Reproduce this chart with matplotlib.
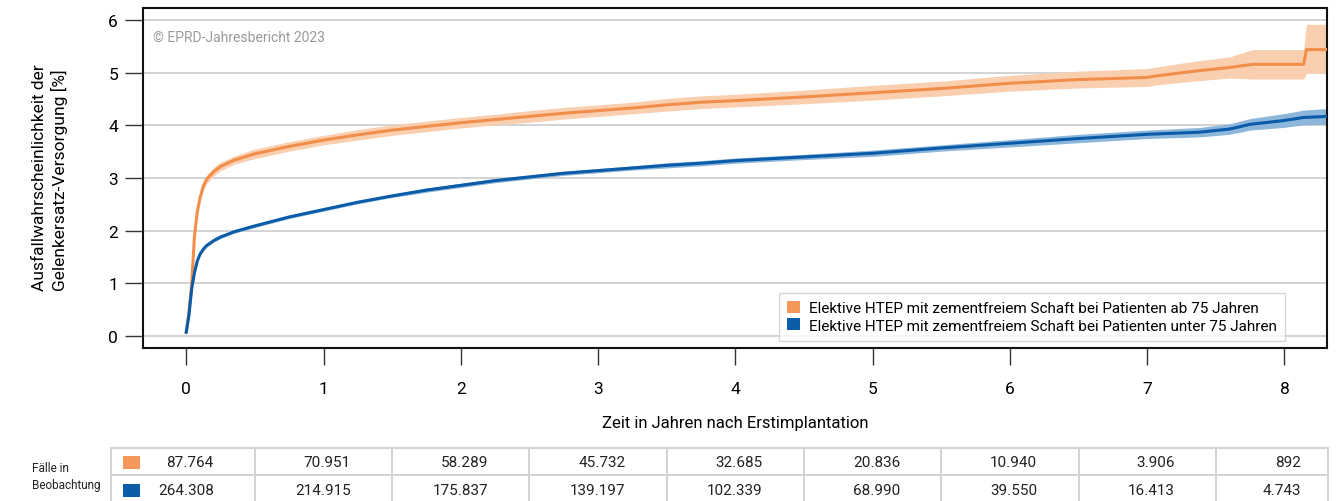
import matplotlib
matplotlib.use("Agg")
import matplotlib.pyplot as plt
from matplotlib.patches import Patch, Rectangle

plt.rcParams['font.family'] = ['Roboto', 'DejaVu Sans']

# ---------------- data ----------------
t_old = [0, 0.02, 0.04, 0.06, 0.08, 0.10, 0.125, 0.15, 0.20, 0.25, 0.35, 0.50, 0.75, 1.00, 1.25, 1.50,
         1.75, 2.00, 2.25, 2.50, 2.75, 3.00, 3.25, 3.50, 3.75, 4.00, 4.50, 5.00, 5.50, 6.00, 6.50, 7.00,
         7.07, 7.22, 7.38, 7.60, 7.77, 8.14, 8.16, 8.31]
v_old = [0.07, 0.45, 1.00, 1.90, 2.35, 2.62, 2.85, 2.98, 3.12, 3.22, 3.34, 3.46, 3.60, 3.72, 3.82, 3.91,
         3.98, 4.05, 4.11, 4.17, 4.23, 4.28, 4.33, 4.39, 4.44, 4.47, 4.54, 4.62, 4.70, 4.80, 4.87, 4.91,
         4.94, 4.99, 5.04, 5.10, 5.16, 5.16, 5.44, 5.44]
lo_old = [0.05, 0.41, 0.95, 1.84, 2.28, 2.55, 2.77, 2.90, 3.04, 3.14, 3.26, 3.37, 3.51, 3.63, 3.72, 3.81,
          3.88, 3.95, 4.01, 4.06, 4.12, 4.17, 4.22, 4.27, 4.32, 4.35, 4.41, 4.48, 4.56, 4.65, 4.71, 4.74,
          4.77, 4.81, 4.85, 4.90, 4.88, 4.88, 4.99, 4.99]
hi_old = [0.09, 0.49, 1.05, 1.96, 2.42, 2.69, 2.93, 3.06, 3.20, 3.30, 3.42, 3.55, 3.69, 3.81, 3.92, 4.01,
          4.08, 4.15, 4.21, 4.28, 4.34, 4.39, 4.44, 4.51, 4.56, 4.59, 4.67, 4.76, 4.84, 4.95, 5.03, 5.08,
          5.11, 5.17, 5.23, 5.30, 5.44, 5.44, 5.92, 5.92]

t_young = [0, 0.02, 0.04, 0.06, 0.08, 0.10, 0.125, 0.15, 0.20, 0.25, 0.35, 0.50, 0.75, 1.00, 1.25, 1.50,
           1.75, 2.00, 2.25, 2.50, 2.75, 3.00, 3.25, 3.50, 3.75, 4.00, 4.50, 5.00, 5.50, 6.00, 6.50, 7.00,
           7.38, 7.60, 7.75, 7.99, 8.14, 8.31]
v_young = [0.07, 0.40, 0.90, 1.20, 1.42, 1.55, 1.65, 1.72, 1.81, 1.88, 1.98, 2.09, 2.26, 2.40, 2.54, 2.66,
           2.77, 2.86, 2.95, 3.02, 3.09, 3.14, 3.19, 3.24, 3.28, 3.33, 3.40, 3.47, 3.57, 3.66, 3.75, 3.83,
           3.87, 3.93, 4.02, 4.09, 4.15, 4.17]
lo_young = [0.06, 0.38, 0.88, 1.18, 1.39, 1.52, 1.62, 1.69, 1.78, 1.85, 1.95, 2.06, 2.23, 2.37, 2.51, 2.63,
            2.73, 2.82, 2.91, 2.98, 3.05, 3.10, 3.15, 3.19, 3.23, 3.28, 3.35, 3.41, 3.51, 3.59, 3.67, 3.75,
            3.78, 3.83, 3.91, 3.96, 4.01, 4.02]
hi_young = [0.08, 0.42, 0.92, 1.22, 1.45, 1.58, 1.68, 1.75, 1.84, 1.91, 2.01, 2.12, 2.29, 2.43, 2.57, 2.69,
            2.81, 2.90, 2.99, 3.06, 3.13, 3.18, 3.23, 3.29, 3.33, 3.38, 3.45, 3.53, 3.63, 3.73, 3.83, 3.91,
            3.96, 4.03, 4.13, 4.22, 4.29, 4.32]

years = [0, 1, 2, 3, 4, 5, 6, 7, 8]
n_old = ["87.764", "70.951", "58.289", "45.732", "32.685", "20.836", "10.940", "3.906", "892"]
n_young = ["264.308", "214.915", "175.837", "139.197", "102.339", "68.990", "39.550", "16.413", "4.743"]

label_old = "Elektive HTEP mit zementfreiem Schaft bei Patienten ab 75 Jahren"
label_young = "Elektive HTEP mit zementfreiem Schaft bei Patienten unter 75 Jahren"

# ---------------- style ----------------
c_old_line = "#F28E4B"
c_old_band = "#F9CFB0"
c_old_sq = "#F4975A"
c_young_line = "#0A5BA8"
c_young_band = "#8DB6DB"
c_young_sq = "#0B5DA9"
grid_c = "#D0D0D0"

W, H = 1338, 502
fig = plt.figure(figsize=(W / 100, H / 100), dpi=100)

x0, x1 = 143, 1327
y0, y1 = 9, 349
ax = fig.add_axes([x0 / W, 1 - y1 / H, (x1 - x0) / W, (y1 - y0) / H])
xmin, xmax = -0.315, 8.31
ax.set_xlim(xmin, xmax)
ax.set_ylim(-0.23, 6.23)

for yv in range(0, 7):
    ax.axhline(yv, color=grid_c, lw=1.3, zorder=0)

ax.fill_between(t_old, lo_old, hi_old, color=c_old_band, lw=0, zorder=2)
ax.plot(t_old, v_old, color=c_old_line, lw=2.2, zorder=3, solid_joinstyle="round")
ax.fill_between(t_young, lo_young, hi_young, color=c_young_band, lw=0, zorder=2)
ax.plot(t_young, v_young, color=c_young_line, lw=2.2, zorder=3, solid_joinstyle="round")

ax.set_yticks(range(0, 7))
ax.set_xticks(years)
ax.tick_params(axis='y', length=13, width=1.0, pad=5, labelsize=12.5, color="#333333")
ax.tick_params(axis='x', length=12.5, width=1.0, pad=11, labelsize=12.5, color="#333333")
for s in ax.spines.values():
    s.set_linewidth(1.5)
    s.set_color("#111111")

ax.set_xlabel("Zeit in Jahren nach Erstimplantation", fontsize=12, labelpad=14)
fig.text(50 / W, 1 - 178 / H, "Ausfallwahrscheinlichkeit der\nGelenkersatz-Versorgung [%]",
         rotation=90, ha="center", va="center", multialignment="left",
         fontsize=12.5, linespacing=1.25)

ax.text(10 / (x1 - x0), 1 - 29 / (y1 - y0), "© EPRD-Jahresbericht 2023", transform=ax.transAxes,
        fontsize=10, color="#9A9A9A", ha="left", va="center")

handles = [Patch(facecolor=c_old_sq, edgecolor="none", label=label_old),
           Patch(facecolor=c_young_sq, edgecolor="none", label=label_young)]
leg = ax.legend(handles=handles, loc="lower right",
                bbox_to_anchor=((1285 - x0) / (x1 - x0), (y1 - 342) / (y1 - y0)),
                fontsize=11, frameon=True, fancybox=False, handlelength=0.8, handleheight=0.8,
                handletextpad=0.6, borderpad=0.55, labelspacing=0.2, borderaxespad=0)
leg.get_frame().set_edgecolor("#CCCCCC")
leg.get_frame().set_linewidth(1.0)

# ---------------- table ----------------
tab_top = 449
tab = fig.add_axes([x0 / W, 0, (x1 - x0) / W, (H - tab_top) / H])
tab.set_xlim(xmin, xmax)
tab.set_ylim(0, 1)
tab.axis("off")
tab_h = H - tab_top
px = (x1 - x0) / (xmax - xmin)
t_left = xmin - (x0 - 111) / px
t_right = xmax + 1 / px
line_kw = dict(color="#D3D3D3", lw=1.4, clip_on=False)
tab.plot([t_left, t_right], [1, 1], **line_kw)
tab.plot([t_left, t_right], [(H - 476) / tab_h] * 2, **line_kw)
tab.plot([t_left, t_left], [0, 1], **line_kw)
tab.plot([t_right, t_right], [0, 1], **line_kw)
for k in years[:-1]:
    tab.plot([k + 0.5, k + 0.5], [0, 1], **line_kw)

row1_y = (H - 463) / tab_h
row2_y = (H - 491) / tab_h
for k, a, b in zip(years, n_old, n_young):
    xr = min(k + 0.2, 8.12)
    tab.text(xr, row1_y, a, ha="right", va="center", fontsize=11, color="#222222", clip_on=False)
    tab.text(xr, row2_y, b, ha="right", va="center", fontsize=11, color="#222222", clip_on=False)

sq_w = 17 / px
tab.add_patch(Rectangle((xmin - (143 - 123) / px, (H - 470) / tab_h), sq_w, 13 / tab_h,
                        facecolor=c_old_sq, edgecolor="none", clip_on=False))
tab.add_patch(Rectangle((xmin - (143 - 123) / px, (H - 498) / tab_h), sq_w, 13 / tab_h,
                        facecolor=c_young_sq, edgecolor="none", clip_on=False))

fig.text(32 / W, 1 - 469 / H, "Fälle in", fontsize=8.5, ha="left", va="center", color="#222222")
fig.text(32 / W, 1 - 486 / H, "Beobachtung", fontsize=8.5, ha="left", va="center", color="#222222")

fig.savefig("out.png", dpi=100)
